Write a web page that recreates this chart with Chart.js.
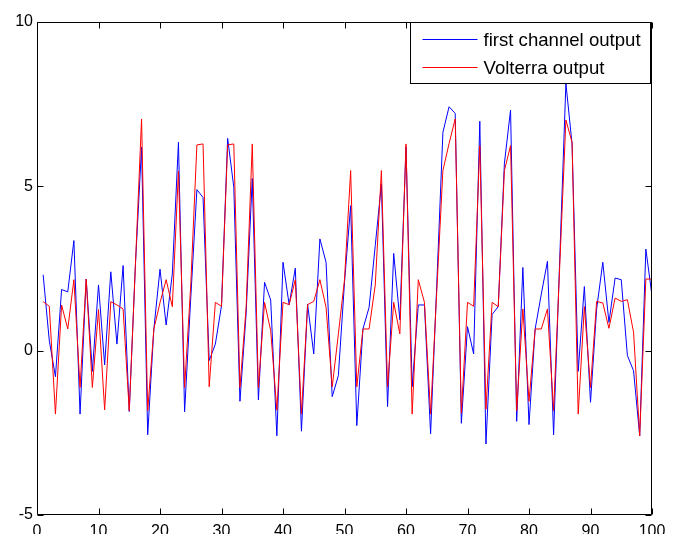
<!DOCTYPE html>
<html><head><meta charset="utf-8">
<script src="https://cdn.jsdelivr.net/npm/chart.js@4.4.1/dist/chart.umd.min.js"></script>
<style>html,body{margin:0;padding:0;background:#fff;overflow:hidden;} #wrap{width:681px;height:534px;position:relative;}</style>
</head><body><div id="wrap"><canvas id="c" width="681" height="534"></canvas></div>
<script>
const steps = [1,2,3,4,5,6,7,8,9,10,11,12,13,14,15,16,17,18,19,20,21,22,23,24,25,26,27,28,29,30,31,32,33,34,35,36,37,38,39,40,41,42,43,44,45,46,47,48,49,50,51,52,53,54,55,56,57,58,59,60,61,62,63,64,65,66,67,68,69,70,71,72,73,74,75,76,77,78,79,80,81,82,83,84,85,86,87,88,89,90,91,92,93,94,95,96,97,98,99,100];
const firstChannel = [2.31,0.30,-0.79,1.86,1.79,3.35,-1.93,2.18,-0.63,2.00,
  -0.43,2.40,0.20,2.59,-1.85,2.6,6.19,-2.56,0.66,2.48,
  0.78,2.33,6.34,-1.86,1.6,4.90,4.66,-0.30,0.20,1.37,
  6.46,4.97,-1.54,1.12,5.24,-1.50,2.08,1.54,-2.59,2.69,
  1.40,2.51,-2.45,1.41,-0.10,3.40,2.69,-1.40,-0.76,2.08,
  4.41,-2.28,0.66,1.32,3.2,5.07,-1.70,2.96,0.94,6.2,
  -1.10,1.39,1.39,-2.53,2.0,6.64,7.42,7.22,-2.21,0.73,
  -0.10,6.98,-2.84,1.10,1.34,5.7,7.32,-2.15,2.53,-2.25,
  0.66,1.72,2.72,-2.56,2.8,8.13,6.29,-0.63,1.95,-1.57,
  1.27,2.69,0.86,2.21,2.16,-0.15,-0.61,-2.59,3.09,1.67];
const volterra = [1.49,1.35,-1.93,1.39,0.66,2.16,-1.12,2.18,-1.12,1.25,
  -1.80,1.49,1.39,1.27,-1.83,2.6,7.05,-1.83,0.66,1.46,
  2.16,1.34,5.46,-1.12,2.0,6.26,6.29,-1.10,1.47,1.35,
  6.26,6.29,-1.12,1.3,6.29,-1.12,1.47,0.61,-1.81,1.47,
  1.40,2.16,-1.93,1.40,1.50,2.16,1.32,-1.10,0.5,2.16,
  5.48,-1.10,0.66,0.66,2.0,5.48,-1.10,1.47,0.51,6.29,
  -1.93,2.16,1.47,-1.93,1.8,5.48,6.3,7.05,-1.9,1.47,
  1.35,6.24,-1.78,1.47,1.34,5.48,6.24,-1.83,1.27,-1.54,
  0.66,0.66,1.27,-1.83,2.6,7.02,6.34,-1.93,1.34,-1.12,
  1.5,1.45,0.68,1.6,1.5,1.55,0.56,-2.59,2.18,2.18];
const xTicks = [0,10,20,30,40,50,60,70,80,90,100];
const yTicks = [-5,0,5,10];
const seriesNames = ['first channel output','Volterra output'];
const seriesColors = ['#0000ff','#ff0000'];

const FONT = "'Liberation Sans', Arial, Helvetica, sans-serif";

const frameAndLegend = {
  id: 'frameAndLegend',
  afterDatasetsDraw(chart) {
    const ctx = chart.ctx, a = chart.chartArea;
    const xs = chart.scales.x, ys = chart.scales.y;
    ctx.save();
    ctx.strokeStyle = '#000';
    ctx.lineWidth = 1;
    const L = Math.round(a.left) + 0.5, R = Math.round(a.right) - 0.5;
    const T = Math.round(a.top) + 0.5, B = Math.round(a.bottom) - 0.5;
    ctx.beginPath();
    ctx.rect(L, T, R - L, B - T);
    ctx.stroke();
    const tl = 6;
    ctx.beginPath();
    xTicks.forEach(v => {
      const px = Math.round(xs.getPixelForValue(v)) + 0.5;
      ctx.moveTo(px, B); ctx.lineTo(px, B - tl);
      ctx.moveTo(px, T); ctx.lineTo(px, T + tl);
    });
    yTicks.forEach(v => {
      const py = Math.round(ys.getPixelForValue(v)) + 0.5;
      ctx.moveTo(L, py); ctx.lineTo(L + tl, py);
      ctx.moveTo(R, py); ctx.lineTo(R - tl, py);
    });
    ctx.stroke();

    // legend box inside top-right
    const bw = 240, bh = 61;
    const bx = Math.round(a.right) - bw - 1.5, by = T;
    ctx.fillStyle = '#fff';
    ctx.fillRect(bx, by, bw, bh);
    ctx.strokeRect(bx, by, bw, bh);
    ctx.font = '18.6px ' + FONT;
    ctx.textBaseline = 'middle';
    ctx.textAlign = 'left';
    chart.data.datasets.forEach((ds, i) => {
      const ry = Math.round(by + 16 + i * 28) + 0.5;
      ctx.strokeStyle = ds.borderColor;
      ctx.beginPath(); ctx.moveTo(bx + 12, ry); ctx.lineTo(bx + 67, ry); ctx.stroke();
      ctx.fillStyle = '#000';
      ctx.fillText(ds.label, bx + 73, ry + 1);
    });
    ctx.restore();
  }
};

new Chart(document.getElementById('c'), {
  type: 'line',
  data: {
    labels: steps,
    datasets: [
      { label: seriesNames[0], order: 1, data: steps.map((s, i) => ({x: s, y: firstChannel[i]})), borderColor: seriesColors[0], borderWidth: 1, pointRadius: 0, fill: false, tension: 0 },
      { label: seriesNames[1], order: 0, data: steps.map((s, i) => ({x: s, y: volterra[i]})), borderColor: seriesColors[1], borderWidth: 1, pointRadius: 0, fill: false, tension: 0 }
    ]
  },
  options: {
    responsive: false, animation: false, devicePixelRatio: 1,
    layout: { padding: { top: 22, right: 29, left: 0, bottom: 0 } },
    plugins: { legend: { display: false }, tooltip: { enabled: false } },
    scales: {
      x: {
        type: 'linear', min: 0, max: 100,
        afterBuildTicks: s => { s.ticks = xTicks.map(v => ({ value: v })); },
        afterFit: s => { s.height = 19; },
        grid: { display: false, drawTicks: false },
        border: { display: false },
        ticks: { padding: 7, color: '#000', font: { family: FONT, size: 16 }, maxRotation: 0, autoSkip: false }
      },
      y: {
        type: 'linear', min: -5, max: 10,
        afterBuildTicks: s => { s.ticks = yTicks.map(v => ({ value: v })); },
        afterFit: s => { s.width = 37; },
        grid: { display: false, drawTicks: false },
        border: { display: false },
        ticks: { padding: 4, color: '#000', font: { family: FONT, size: 16 } }
      }
    }
  },
  plugins: [frameAndLegend]
});
</script>
</body></html>
